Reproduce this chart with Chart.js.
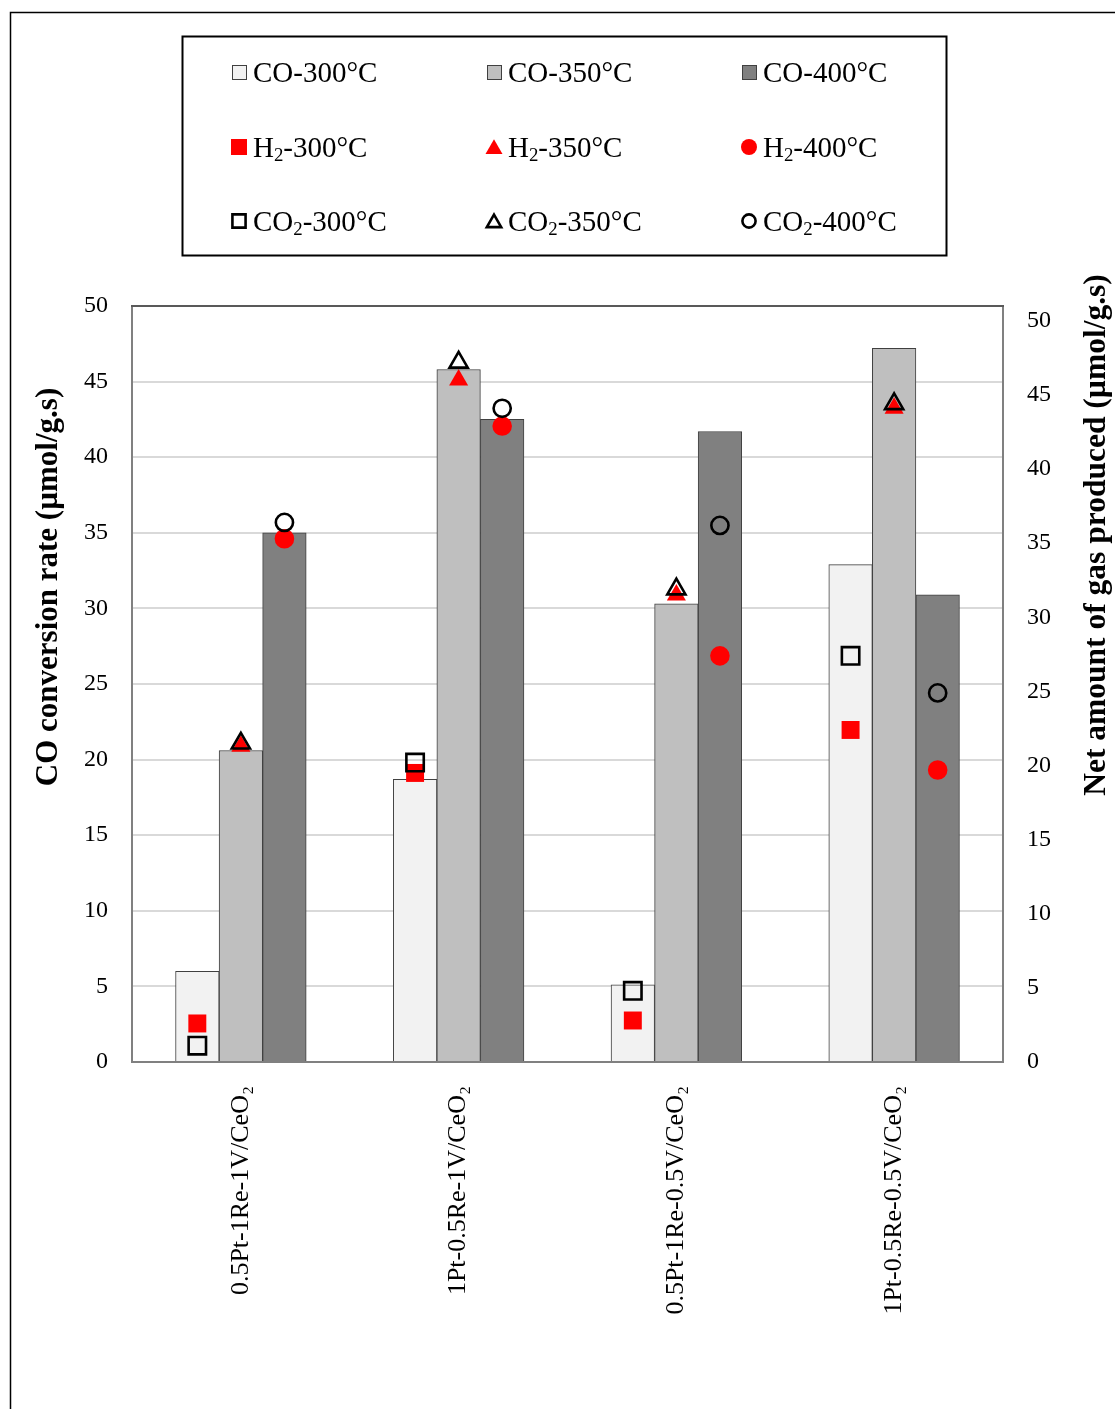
<!DOCTYPE html>
<html>
<head>
<meta charset="utf-8">
<script src="https://cdn.jsdelivr.net/npm/chart.js@4.4.1/dist/chart.umd.min.js"></script>
<style>
  html, body { margin: 0; padding: 0; background: #ffffff; }
  canvas { display: block; }
</style>
</head>
<body>
<canvas id="chart" width="1115" height="1409"></canvas>
<script>
// Catalysts on the x axis
const catalysts = ["0.5Pt-1Re-1V/CeO₂", "1Pt-0.5Re-1V/CeO₂", "0.5Pt-1Re-0.5V/CeO₂", "1Pt-0.5Re-0.5V/CeO₂"];
const temperatures = ["300°C", "350°C", "400°C"];

// CO conversion rate (µmol/g.s), left axis
const co300 = [6.0, 18.7, 5.1, 32.9];
const co350 = [20.6, 45.8, 30.3, 47.2];
const co400 = [35.0, 42.5, 41.7, 30.9];

// Net H2 produced (µmol/g.s), right axis
const h2_300 = [2.6, 19.5, 2.8, 22.4];
const h2_350 = [21.3, 46.0, 31.5, 44.1];
const h2_400 = [35.3, 42.9, 27.4, 19.7];

// Net CO2 produced (µmol/g.s), right axis
const co2_300 = [1.1, 20.2, 4.8, 27.4];
const co2_350 = [21.5, 47.2, 31.9, 44.4];
const co2_400 = [36.4, 44.1, 36.2, 24.9];

// Axis ranges and tick steps
const leftMax = 50, rightMax = 51, tickStep = 5;

const SERIF = "'Liberation Serif', 'Times New Roman', serif";
const GROUP_WIDTH = 0.6;              // share of each category taken by its three bars
const barFill = ["#f2f2f2", "#bfbfbf", "#808080"];
const markerShape = ["rect", "triangle", "circle"];
const redRadius = [12.7, 11, 9.8];
const hollowRadius = [12.3, 10.5, 8.6];

// x position (in category units) of the k-th temperature inside catalyst group i
function slotOffset(k) { return (k - 1) * GROUP_WIDTH / 3; }
function placeInGroup(values, k) { return values.map((v, i) => ({ x: i + slotOffset(k), y: v })); }

const coSeries = [co300, co350, co400];
const h2Series = [h2_300, h2_350, h2_400];
const co2Series = [co2_300, co2_350, co2_400];

const datasets = [];
coSeries.forEach((vals, k) => datasets.push({
  type: "bar", label: "CO-" + temperatures[k], data: placeInGroup(vals, k),
  backgroundColor: barFill[k], borderColor: "#404040", borderWidth: 1,
  grouped: false, categoryPercentage: 1.0, barPercentage: 1.0,
  xAxisID: "x", yAxisID: "y", order: 3
}));
h2Series.forEach((vals, k) => datasets.push({
  type: "scatter", label: "H₂-" + temperatures[k], data: placeInGroup(vals, k),
  pointStyle: markerShape[k], pointRadius: redRadius[k], pointHoverRadius: redRadius[k],
  backgroundColor: "#ff0000", borderColor: "#ff0000", borderWidth: 0,
  showLine: false, xAxisID: "x", yAxisID: "y2", order: 2,
  legendRadius: [11.3, 9.8, 8][k]
}));
co2Series.forEach((vals, k) => datasets.push({
  type: "scatter", label: "CO₂-" + temperatures[k], data: placeInGroup(vals, k),
  pointStyle: markerShape[k], pointRadius: hollowRadius[k], pointHoverRadius: hollowRadius[k],
  backgroundColor: "rgba(0,0,0,0)", borderColor: "#000000", borderWidth: 2.6,
  showLine: false, xAxisID: "x", yAxisID: "y2", order: 1,
  legendRadius: [9.3, 8.3, 6.6][k]
}));

// Text with "₂" drawn as a lowered, smaller digit
function drawRich(ctx, text, x, y, size, weight) {
  const parts = text.split("₂");
  let cx = x;
  parts.forEach((p, i) => {
    ctx.font = `${weight} ${size}px ${SERIF}`;
    ctx.fillText(p, cx, y);
    cx += ctx.measureText(p).width;
    if (i < parts.length - 1) {
      ctx.font = `${weight} ${size * 0.65}px ${SERIF}`;
      ctx.fillText("2", cx, y + size * 0.14);
      cx += ctx.measureText("2").width;
    }
  });
}

const pagePlugin = {
  id: "pageDecor",
  beforeDraw(chart) {
    const ctx = chart.ctx;
    ctx.save();
    ctx.strokeStyle = "#000";
    ctx.lineWidth = 1.5;
    ctx.beginPath();
    ctx.moveTo(10.5, 1409); ctx.lineTo(10.5, 12.5); ctx.lineTo(1115, 12.5);
    ctx.stroke();
    ctx.restore();
  },
  beforeDatasetsDraw(chart) {
    const { ctx, chartArea: a } = chart;
    ctx.save();
    ctx.strokeStyle = "#595959";
    ctx.lineWidth = 2;
    ctx.beginPath();
    ctx.moveTo(a.left - 1, a.top); ctx.lineTo(a.right + 1, a.top);
    ctx.stroke();
    ctx.restore();
  },
  afterDraw(chart) {
    const ctx = chart.ctx;
    ctx.save();
    // axis titles
    ctx.fillStyle = "#000";
    ctx.font = `bold 31px ${SERIF}`;
    ctx.textAlign = "center";
    ctx.textBaseline = "middle";
    ctx.save();
    ctx.translate(49, 587); ctx.rotate(-Math.PI / 2);
    ctx.fillText("CO conversion rate (µmol/g.s)", 0, 0);
    ctx.restore();
    ctx.save();
    ctx.translate(1097, 535); ctx.rotate(-Math.PI / 2);
    ctx.font = `bold 31.5px ${SERIF}`;
    ctx.fillText("Net amount of gas produced (µmol/g.s)", 0, 0);
    ctx.restore();

    // legend box
    ctx.strokeStyle = "#000";
    ctx.lineWidth = 2;
    ctx.strokeRect(182.5, 36.5, 764, 219);
    const colMarker = [239, 494, 749];
    const colText = [253, 508, 763];
    const rowY = [72, 147, 221];
    const fontSize = 29;
    chart.data.datasets.forEach((ds, i) => {
      const r = Math.floor(i / 3), c = i % 3;
      const mx = colMarker[c], my = rowY[r];
      if (ds.type === "bar") {
        ctx.fillStyle = ds.backgroundColor;
        ctx.fillRect(mx - 7, my - 7, 14, 14);
        ctx.strokeStyle = "#404040";
        ctx.lineWidth = 1;
        ctx.strokeRect(mx - 6.5, my - 6.5, 14, 14);
      } else {
        ctx.fillStyle = ds.backgroundColor;
        ctx.strokeStyle = ds.borderColor;
        ctx.lineWidth = ds.borderWidth;
        Chart.helpers.drawPoint(ctx, {
          pointStyle: ds.pointStyle, radius: ds.legendRadius,
          rotation: 0, borderWidth: ds.borderWidth
        }, mx, ds.pointStyle === "triangle" ? my + 2 : my);
      }
      ctx.fillStyle = "#000";
      ctx.textAlign = "left";
      ctx.textBaseline = "alphabetic";
      drawRich(ctx, ds.label, colText[c], my + fontSize * 0.33, fontSize, "normal");
    });
    ctx.restore();
  }
};

new Chart(document.getElementById("chart"), {
  type: "bar",
  data: { datasets },
  plugins: [pagePlugin],
  options: {
    responsive: false,
    animation: false,
    layout: { padding: { top: 306, left: 0, right: 0, bottom: 0 } },
    plugins: { legend: { display: false }, tooltip: { enabled: false } },
    scales: {
      x: {
        type: "linear", min: -0.5, max: catalysts.length - 0.5, offset: false,
        afterBuildTicks(s) { s.ticks = catalysts.map((_, i) => ({ value: i })); },
        grid: { display: false, drawTicks: false },
        border: { display: true, color: "#808080", width: 2 },
        ticks: {
          autoSkip: false, minRotation: 90, maxRotation: 90, padding: 24,
          color: "#000", font: { family: SERIF, size: 26 },
          callback: (v) => catalysts[v]
        },
        afterFit(s) { s.height = 347; }
      },
      y: {
        type: "linear", position: "left", min: 0, max: leftMax,
        ticks: { stepSize: tickStep, padding: 24, color: "#000", font: { family: SERIF, size: 24 } },
        grid: { color: "#d9d9d9", lineWidth: 2, drawTicks: false },
        border: { display: true, color: "#808080", width: 2 },
        afterFit(s) { s.width = 132; }
      },
      y2: {
        type: "linear", position: "right", min: 0, max: rightMax, bounds: "data",
        afterBuildTicks(s) { s.ticks = s.ticks.filter(t => t.value % tickStep === 0); },
        ticks: { stepSize: tickStep, padding: 24, color: "#000", font: { family: SERIF, size: 24 } },
        grid: { display: false, drawTicks: false },
        border: { display: true, color: "#808080", width: 2 },
        afterFit(s) { s.width = 112; }
      }
    }
  }
});
</script>
</body>
</html>
